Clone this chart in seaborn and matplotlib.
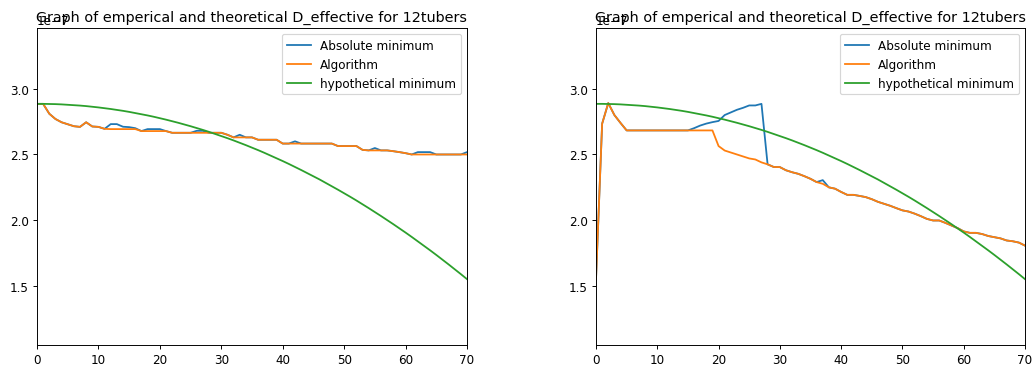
import numpy as np
import pandas as pd
import matplotlib
matplotlib.use("Agg")
import matplotlib.pyplot as plt
import seaborn as sns

# Number of tubers used / step index
steps = list(range(71))

# D_effective values in units of 1e-7
hyp_minimum = [
    2.885, 2.885, 2.884, 2.883, 2.881, 2.878, 2.875, 2.872, 2.868, 2.863,
    2.858, 2.852, 2.846, 2.839, 2.832, 2.824, 2.815, 2.806, 2.797, 2.787,
    2.776, 2.765, 2.753, 2.741, 2.728, 2.715, 2.701, 2.687, 2.672, 2.656,
    2.640, 2.624, 2.607, 2.589, 2.571, 2.552, 2.533, 2.513, 2.492, 2.471,
    2.450, 2.428, 2.405, 2.382, 2.358, 2.334, 2.310, 2.284, 2.258, 2.232,
    2.205, 2.178, 2.150, 2.121, 2.092, 2.062, 2.032, 2.001, 1.970, 1.938,
    1.906, 1.873, 1.839, 1.805, 1.771, 1.736, 1.700, 1.664, 1.627, 1.590,
    1.552,
]

# First experiment
algo_1 = [
    2.885, 2.885, 2.810, 2.770, 2.745, 2.730, 2.715, 2.710, 2.745, 2.713,
    2.710, 2.695, 2.693, 2.693, 2.693, 2.693, 2.693, 2.678, 2.678, 2.678,
    2.678, 2.678, 2.665, 2.665, 2.665, 2.665, 2.665, 2.665, 2.665, 2.665,
    2.665, 2.650, 2.630, 2.630, 2.630, 2.630, 2.612, 2.612, 2.612, 2.612,
    2.583, 2.583, 2.583, 2.583, 2.583, 2.583, 2.583, 2.583, 2.583, 2.564,
    2.564, 2.564, 2.564, 2.535, 2.531, 2.531, 2.531, 2.531, 2.525, 2.518,
    2.510, 2.500, 2.500, 2.500, 2.500, 2.500, 2.500, 2.500, 2.500, 2.500,
    2.500,
]
absmin_1 = [
    2.885, 2.885, 2.810, 2.770, 2.745, 2.730, 2.715, 2.710, 2.745, 2.713,
    2.710, 2.695, 2.731, 2.731, 2.711, 2.708, 2.700, 2.678, 2.693, 2.693,
    2.693, 2.678, 2.665, 2.665, 2.665, 2.665, 2.680, 2.680, 2.665, 2.665,
    2.665, 2.650, 2.630, 2.650, 2.630, 2.630, 2.612, 2.612, 2.612, 2.612,
    2.583, 2.583, 2.600, 2.583, 2.583, 2.583, 2.583, 2.583, 2.583, 2.564,
    2.564, 2.564, 2.564, 2.535, 2.531, 2.549, 2.531, 2.531, 2.525, 2.518,
    2.510, 2.500, 2.518, 2.518, 2.518, 2.500, 2.500, 2.500, 2.500, 2.500,
    2.518,
]

# Second experiment
algo_2 = [
    1.550, 2.734, 2.891, 2.800, 2.740, 2.683, 2.683, 2.683, 2.683, 2.683,
    2.683, 2.683, 2.683, 2.683, 2.683, 2.683, 2.683, 2.683, 2.683, 2.683,
    2.564, 2.530, 2.515, 2.500, 2.485, 2.470, 2.462, 2.440, 2.425, 2.405,
    2.404, 2.380, 2.365, 2.353, 2.335, 2.315, 2.290, 2.277, 2.250, 2.240,
    2.215, 2.193, 2.193, 2.185, 2.176, 2.160, 2.140, 2.125, 2.110, 2.092,
    2.075, 2.066, 2.050, 2.031, 2.010, 1.998, 1.998, 1.980, 1.960, 1.940,
    1.915, 1.904, 1.904, 1.895, 1.880, 1.871, 1.862, 1.846, 1.840, 1.830,
    1.807,
]
absmin_2 = [
    1.550, 2.734, 2.891, 2.800, 2.740, 2.683, 2.683, 2.683, 2.683, 2.683,
    2.683, 2.683, 2.683, 2.683, 2.683, 2.683, 2.700, 2.720, 2.735, 2.746,
    2.755, 2.800, 2.820, 2.840, 2.855, 2.873, 2.873, 2.885, 2.425, 2.405,
    2.404, 2.380, 2.365, 2.353, 2.335, 2.315, 2.290, 2.305, 2.250, 2.240,
    2.215, 2.193, 2.193, 2.185, 2.176, 2.160, 2.140, 2.125, 2.110, 2.092,
    2.075, 2.066, 2.050, 2.031, 2.010, 1.998, 1.998, 1.980, 1.960, 1.940,
    1.915, 1.904, 1.904, 1.895, 1.880, 1.871, 1.862, 1.846, 1.840, 1.830,
    1.807,
]

SCALE = 1e-7
TITLE = "Graph of emperical and theoretical D_effective for 12tubers"
DPI = 86

fig = plt.figure(figsize=(1032 / DPI, 368 / DPI), dpi=DPI)
bottom = 22 / 368
height = (346 - 29) / 368
ax1 = fig.add_axes([37 / 1032, bottom, 430 / 1032, height])
ax2 = fig.add_axes([596 / 1032, bottom, 429 / 1032, height])


def draw(ax, absmin, algo):
    df = pd.DataFrame({
        "x": steps,
        "absmin": np.array(absmin) * SCALE,
        "algo": np.array(algo) * SCALE,
        "hyp": np.array(hyp_minimum) * SCALE,
    })
    sns.lineplot(data=df, x="x", y="absmin", ax=ax, color="C0", label="Absolute minimum")
    sns.lineplot(data=df, x="x", y="algo", ax=ax, color="C1", label="Algorithm")
    sns.lineplot(data=df, x="x", y="hyp", ax=ax, color="C2", label="hypothetical minimum")
    ax.set_xlim(0, 70)
    ax.set_ylim(1.051e-7, 3.462e-7)
    ax.set_xlabel("")
    ax.set_ylabel("")
    # fixed title position: sits right on top of the axes
    ax.set_title(TITLE, y=1.0)
    ax.legend(loc="upper right")


draw(ax1, absmin_1, algo_1)
draw(ax2, absmin_2, algo_2)

fig.savefig("out.png", dpi=DPI)
